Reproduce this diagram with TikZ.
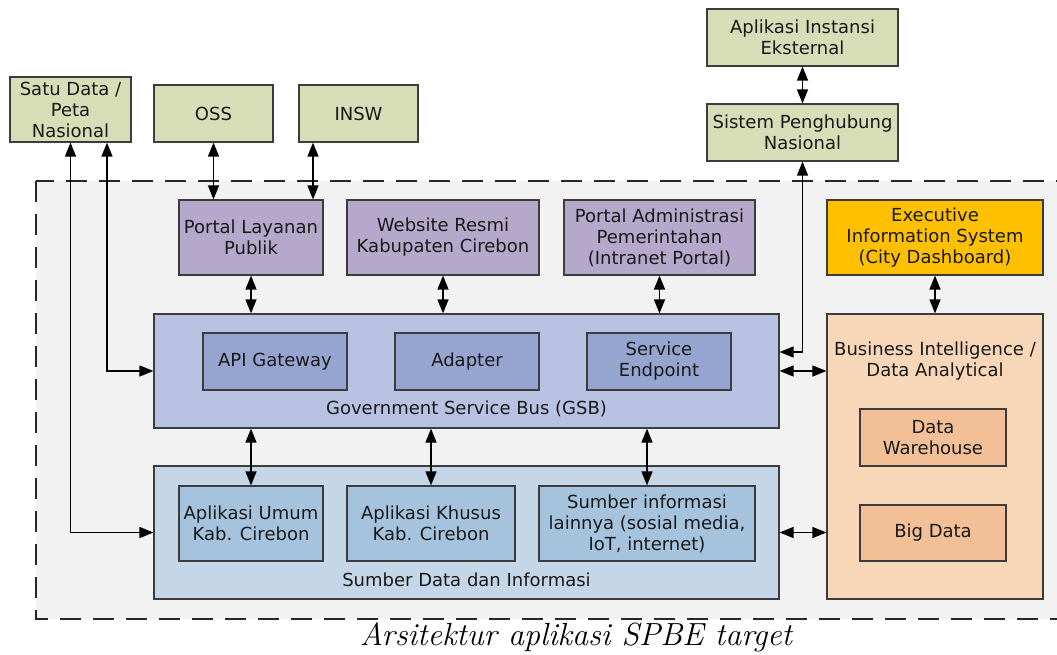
\documentclass[tikz,border=0pt]{standalone}
\usepackage{fontspec}
\newfontfamily\boxfont{DejaVu Sans}
\usetikzlibrary{arrows.meta}
\definecolor{cgreen}{RGB}{215,221,183}
\definecolor{cpurple}{RGB}{180,168,203}
\definecolor{cgold}{RGB}{255,192,0}
\definecolor{cgsb}{RGB}{183,193,225}
\definecolor{cgsbin}{RGB}{150,164,208}
\definecolor{csdi}{RGB}{197,214,232}
\definecolor{csdiin}{RGB}{166,195,222}
\definecolor{cbi}{RGB}{248,214,184}
\definecolor{cbiin}{RGB}{243,191,151}
\definecolor{cbg}{RGB}{242,242,242}
\definecolor{cedge}{RGB}{60,60,60}
\definecolor{ctext}{RGB}{25,25,25}
\tikzset{
  box/.style={draw=cedge, line width=1.2pt, rectangle, align=center, inner sep=2pt,
    text=ctext, font=\boxfont\fontsize{18}{21}\selectfont},
  lbl/.style={align=center, inner sep=0pt, text=ctext, font=\boxfont\fontsize{18}{21}\selectfont},
  bi/.style={line width=1.4pt, >={Triangle[length=14pt,width=11pt]}, <->},
  region/.style={draw=black!85, line width=1.5pt, dash pattern=on 21pt off 12pt, fill=cbg}
}
\begin{document}
\begin{tikzpicture}[x=1pt,y=-1pt]
\useasboundingbox (0,0) rectangle (1057,655);
\fill[white] (0,0) rectangle (1057,655);
\draw[region] (36,181) rectangle (1059,619);

% external boxes
\node[box, fill=cgreen, minimum width=121, minimum height=65] (sat) at (70.5,109.5) {Satu Data /\\Peta\\Nasional};
\node[box, fill=cgreen, minimum width=119, minimum height=57] (oss) at (213.5,113.5) {OSS};
\node[box, fill=cgreen, minimum width=119, minimum height=57] (insw) at (358.5,113.5) {INSW};
\node[box, fill=cgreen, minimum width=191, minimum height=57] (aie) at (802.5,37.5) {Aplikasi Instansi\\Eksternal};
\node[box, fill=cgreen, minimum width=191, minimum height=57] (spn) at (802.5,132.5) {Sistem Penghubung\\Nasional};

% portals
\node[box, fill=cpurple, minimum width=144, minimum height=75] (pl) at (251,237.5) {Portal Layanan\\Publik};
\node[box, fill=cpurple, minimum width=192, minimum height=75] (web) at (443,237.5) {Website Resmi\\Kabupaten Cirebon};
\node[box, fill=cpurple, minimum width=191, minimum height=75] (pa) at (659.5,237.5) {Portal Administrasi\\Pemerintahan\\(Intranet Portal)};
\node[box, fill=cgold, minimum width=216, minimum height=75] (eis) at (935,237.5) {Executive\\Information System\\(City Dashboard)};

% GSB
\node[box, fill=cgsb, minimum width=625, minimum height=114] (gsb) at (466.5,371) {};
\node[box, fill=cgsbin, minimum width=144, minimum height=57] (api) at (275,361.5) {API Gateway};
\node[box, fill=cgsbin, minimum width=144, minimum height=57] (ada) at (467,361.5) {Adapter};
\node[box, fill=cgsbin, minimum width=144, minimum height=57] (sep) at (659,361.5) {Service\\Endpoint};
\node[lbl] (gsblbl) at (466.5,409) {Government Service Bus (GSB)};

% Sumber data
\node[box, fill=csdi, minimum width=625, minimum height=133] (sdi) at (466.5,532.5) {};
\node[box, fill=csdiin, minimum width=144, minimum height=75] (au) at (251,523.5) {Aplikasi Umum\\Kab. Cirebon};
\node[box, fill=csdiin, minimum width=168, minimum height=75] (ak) at (431,523.5) {Aplikasi Khusus\\Kab. Cirebon};
\node[box, fill=csdiin, minimum width=216, minimum height=75] (si) at (647,523.5) {Sumber informasi\\lainnya (sosial media,\\IoT, internet)};
\node[lbl] (sdilbl) at (466.5,580) {Sumber Data dan Informasi};

% BI
\node[box, fill=cbi, minimum width=216, minimum height=285] (bi) at (935,456.5) {};
\node[lbl] (bilbl) at (935,361) {Business Intelligence /\\Data Analytical};
\node[box, fill=cbiin, minimum width=146, minimum height=57] (dw) at (933,437.5) {Data\\Warehouse};
\node[box, fill=cbiin, minimum width=146, minimum height=56] (bd) at (933,533) {Big Data};

% caption
\node[inner sep=0pt, font=\fontsize{32}{36}\selectfont\itshape] (cap) at (576,637) {Arsitektur aplikasi SPBE target};

% connectors
\draw[bi] ([xshift=36.5pt]sat.south) |- (gsb.west);
\draw[bi] (sat.south) |- (sdi.west);
\draw[bi] (oss.south) -- (oss.south |- pl.north);
\draw[bi] ([xshift=-45.5pt]insw.south) -- ([xshift=62pt]pl.north);
\draw[bi] (aie.south) -- (spn.north);
\draw[bi] (spn.south) |- ([yshift=19pt]gsb.east);
\draw[bi] (pl.south) -- (pl.south |- gsb.north);
\draw[bi] (web.south) -- (web.south |- gsb.north);
\draw[bi] (pa.south) -- (pa.south |- gsb.north);
\draw[bi] (eis.south) -- (bi.north);
\draw[bi] (gsb.east) -- (gsb.east -| bi.west);
\draw[bi] (sdi.east) -- (sdi.east -| bi.west);
\draw[bi] (au.north |- gsb.south) -- (au.north);
\draw[bi] (ak.north |- gsb.south) -- (ak.north);
\draw[bi] (si.north |- gsb.south) -- (si.north);
\end{tikzpicture}
\end{document}
